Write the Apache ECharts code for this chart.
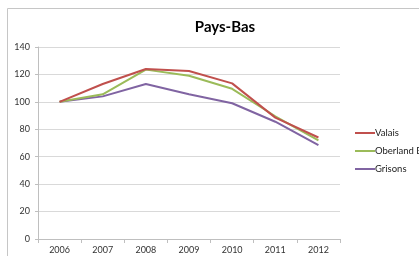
<!DOCTYPE html>
<html><head><meta charset="utf-8">
<script src="https://cdn.jsdelivr.net/npm/echarts@6/dist/echarts.min.js"></script>
<style>html,body{margin:0;padding:0;background:#fff;overflow:hidden}#c{width:419px;height:256px}</style>
</head><body><div id="c"></div>
<script>
const title = 'Pays-Bas';
const years = ['2006','2007','2008','2009','2010','2011','2012'];
const valais = [100, 113, 124, 122.5, 113.5, 88.5, 74];
const oberland = [100, 105.5, 123.5, 119, 109.5, 89.5, 72];
const grisons = [100, 104, 113, 105.5, 99, 85.5, 68.5];
const seriesNames = ['Valais', 'Oberland Bernois', 'Grisons'];
const colors = ['#c0504d', '#9bbb59', '#8064a2'];
const yTicks = {min: 0, max: 140, interval: 20};

const chart = echarts.init(document.getElementById('c'), null, {renderer: 'canvas'});
const font = 'Lato, "Open Sans", sans-serif';
const mk = (name, data, i) => ({
  name, type: 'line', data, symbol: 'none', showSymbol: false, color: colors[i],
  lineStyle: {width: 2, color: colors[i]}, z: 3 - i
});
chart.setOption({
  animation: false,
  textStyle: {fontFamily: font},
  title: {text: title, left: 220, textAlign: 'center', top: 15,
    textStyle: {fontSize: 15, fontWeight: 'bold', color: '#000', fontFamily: font}},
  graphic: [{type: 'rect', shape: {x: 7.5, y: 8.5, width: 600, height: 400},
    style: {fill: 'none', stroke: '#c6c6c6', lineWidth: 1}, silent: true}],
  grid: {left: 38, right: 79, top: 47, bottom: 17, containLabel: false},
  legend: {orient: 'vertical', left: 355, top: 128, width: 300, padding: 0, itemGap: 8, itemWidth: 20, itemHeight: 9,
    icon: 'path://M0,0 L20,0 L20,2 L0,2 Z',
    data: seriesNames,
    textStyle: {fontSize: 9.5, color: '#222', padding: [0, 0, 0, -5], overflow: 'none'}},
  xAxis: {type: 'category', data: years, boundaryGap: true,
    axisLine: {lineStyle: {color: '#bfbfbf'}},
    axisTick: {show: true, length: 4, lineStyle: {color: '#bfbfbf'}},
    axisLabel: {fontSize: 9, color: '#333', margin: 7}},
  yAxis: {type: 'value', min: yTicks.min, max: yTicks.max, interval: yTicks.interval,
    axisLine: {show: true, lineStyle: {color: '#bfbfbf'}},
    axisTick: {show: true, length: 3, inside: false, lineStyle: {color: '#bfbfbf'}},
    splitLine: {lineStyle: {color: '#d9d9d9'}},
    axisLabel: {fontSize: 9, color: '#333', margin: 8}},
  series: [mk(seriesNames[0], valais, 0), mk(seriesNames[1], oberland, 1), mk(seriesNames[2], grisons, 2)]
});
</script></body></html>
